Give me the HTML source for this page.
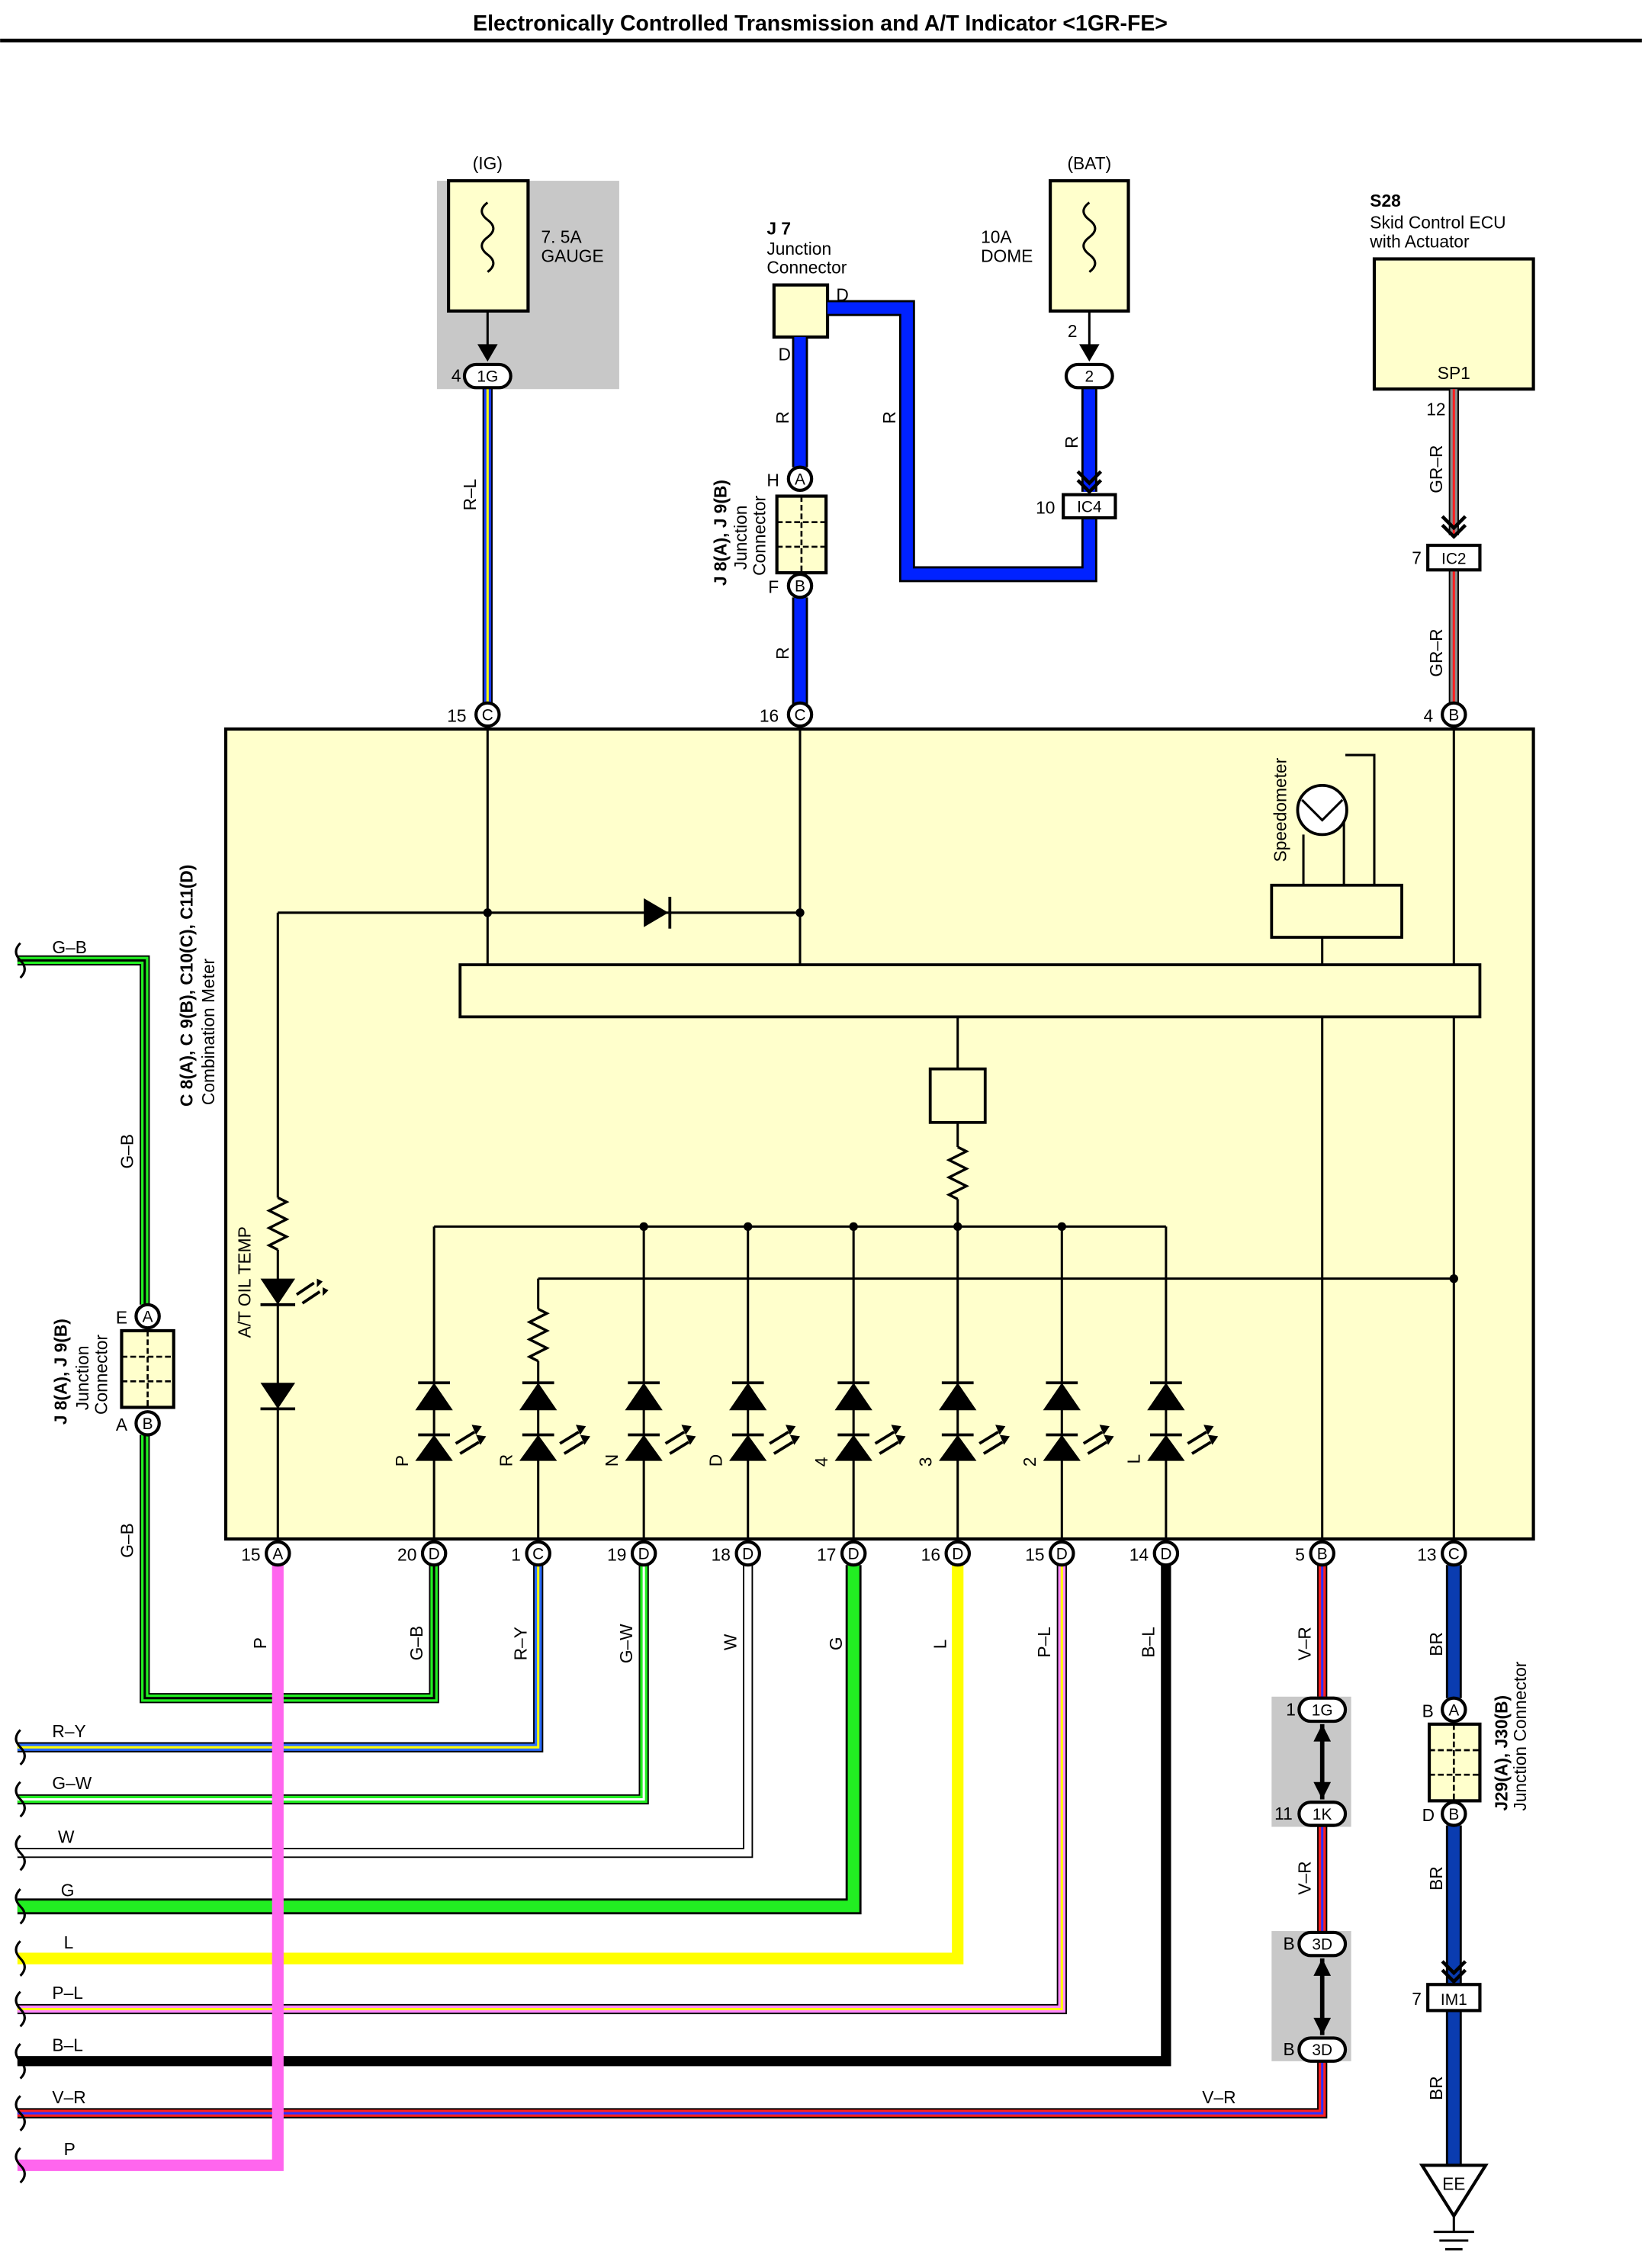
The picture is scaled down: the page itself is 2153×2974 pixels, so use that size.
<!DOCTYPE html>
<html><head><meta charset="utf-8"><style>
html,body{margin:0;padding:0;background:#fff}
svg{display:block}
text{font-family:"Liberation Sans",sans-serif;font-size:12px;fill:#000}
.o{fill:none;stroke:#000;stroke-width:7;stroke-linejoin:miter}
.ot{fill:none;stroke:#000;stroke-width:11;stroke-linejoin:miter}
.w{fill:none;stroke-width:5}
.wt{fill:none;stroke-width:8}
.s{fill:none;stroke-width:1.6}
.l{fill:none;stroke:#000;stroke-width:1.6}
.c{fill:#fff;stroke:#000;stroke-width:2.2}
.ct{font-size:11px;text-anchor:middle}
</style></head><body>
<svg width="2153" height="2974" viewBox="0 0 1135 1568" xmlns="http://www.w3.org/2000/svg">
<rect width="1135" height="1568" fill="#fff"/>
<text x="567" y="21" text-anchor="middle" style="font-size:15px;font-weight:bold">Electronically Controlled Transmission and A/T Indicator &lt;1GR-FE&gt;</text>
<line x1="0" y1="28" x2="1135" y2="28" stroke="#000" stroke-width="2.5"/>

<!-- gray boxes -->
<rect x="302" y="125" width="126" height="144" fill="#c8c8c8"/>
<rect x="879" y="1173" width="55" height="90" fill="#c8c8c8"/>
<rect x="879" y="1335" width="55" height="90" fill="#c8c8c8"/>

<!-- main meter -->
<rect x="156" y="504" width="904" height="560" fill="#ffffcc" stroke="#000" stroke-width="2.2"/>

<!-- fuses -->
<rect x="310" y="125" width="55" height="90" fill="#ffffcc" stroke="#000" stroke-width="2.2"/>
<path d="M337 140 q-8 6 0 12 q8 6 0 12 q-8 6 0 12 q8 6 0 12" class="l" stroke-width="1.8"/>
<text x="374" y="168">7. 5A</text><text x="374" y="181">GAUGE</text>
<text x="337" y="117" text-anchor="middle">(IG)</text>
<line x1="337" y1="215" x2="337" y2="246" class="l"/>
<path d="M330 238 L337 250 L344 238 Z" fill="#000"/>

<rect x="726" y="125" width="54" height="90" fill="#ffffcc" stroke="#000" stroke-width="2.2"/>
<path d="M753 140 q-8 6 0 12 q8 6 0 12 q-8 6 0 12 q8 6 0 12" class="l" stroke-width="1.8"/>
<text x="678" y="168">10A</text><text x="678" y="181">DOME</text>
<text x="753" y="117" text-anchor="middle">(BAT)</text>
<line x1="753" y1="215" x2="753" y2="246" class="l"/>
<path d="M746 238 L753 250 L760 238 Z" fill="#000"/>
<text x="738" y="233">2</text>

<!-- S28 -->
<text x="947" y="143" style="font-weight:bold">S28</text>
<text x="947" y="158">Skid Control ECU</text>
<text x="947" y="171">with Actuator</text>
<rect x="950" y="179" width="110" height="90" fill="#ffffcc" stroke="#000" stroke-width="2.2"/>
<text x="1005" y="262" text-anchor="middle">SP1</text>

<!-- J7 -->
<text x="530" y="162" style="font-weight:bold">J 7</text>
<text x="530" y="176">Junction</text>
<text x="530" y="189">Connector</text>
<rect x="535" y="197" width="37" height="36" fill="#ffffcc" stroke="#000" stroke-width="2.2"/>
<text x="578" y="208">D</text><text x="538" y="249">D</text>

<!-- WIRES -->
<!-- R-L -->
<path d="M337 268 V487" class="o"/><path d="M337 268 V487" class="w" stroke="#1a3cff"/><path d="M337 268 V487" class="s" stroke="#ffff00"/>
<!-- R thick blue -->
<path d="M553 233 V323 M553 413 V487" class="ot"/><path d="M553 233 V323 M553 413 V487" class="wt" stroke="#0022ff"/>
<path d="M572 213 H627 V397 H753 V358" class="ot"/><path d="M572 213 H627 V397 H753 V358" class="wt" stroke="#0022ff"/>
<path d="M753 268 V340" class="ot"/><path d="M753 268 V340" class="wt" stroke="#0022ff"/>
<!-- GR-R -->
<path d="M1005 269 V370 M1005 394 V487" class="o"/><path d="M1005 269 V370 M1005 394 V487" class="w" stroke="#8a8a8a"/><path d="M1005 269 V370 M1005 394 V487" class="s" stroke="#ff2020"/>

<!-- G-B -->
<path d="M12 664 H100 V902 M100 992 V1174 H300 V1082" class="o"/><path d="M12 664 H100 V902 M100 992 V1174 H300 V1082" class="w" stroke="#22ee22"/><path d="M12 664 H100 V902 M100 992 V1174 H300 V1082" class="s" stroke="#000"/>
<!-- R-Y -->
<path d="M12 1208 H372 V1082" class="o"/><path d="M12 1208 H372 V1082" class="w" stroke="#2a6bff"/><path d="M12 1208 H372 V1082" class="s" stroke="#ffff00"/>
<!-- G-W -->
<path d="M12 1244 H445 V1082" class="o"/><path d="M12 1244 H445 V1082" class="w" stroke="#22ee22"/><path d="M12 1244 H445 V1082" class="s" stroke="#fff"/>
<!-- W -->
<path d="M12 1281 H517 V1082" class="o" stroke-width="5"/><path d="M12 1281 H517 V1082" class="w" stroke="#fff" stroke-width="3.4"/>
<!-- G thick -->
<path d="M12 1318 H590 V1082" class="ot"/><path d="M12 1318 H590 V1082" class="wt" stroke="#22ee22"/>
<!-- L thick yellow -->
<path d="M12 1354 H662 V1082" class="wt" stroke="#ffff00" stroke-width="9"/>
<!-- P-L -->
<path d="M12 1389 H734 V1082" class="o" stroke="#ff66ff"/><path d="M12 1389 H734 V1082" class="w" stroke="#ff88ff"/><path d="M12 1389 H734 V1082" class="s" stroke="#ffff00"/>
<!-- B-L -->
<path d="M12 1425 H806 V1082" class="o" stroke="#ffff00" stroke-width="9"/><path d="M12 1425 H806 V1082" class="w" stroke="#000"/>
<!-- V-R -->
<path d="M12 1461 H914 V1425 M914 1335 V1262 M914 1173 V1082" class="o" stroke="#ff2020" stroke-width="8"/><path d="M12 1461 H914 V1425 M914 1335 V1262 M914 1173 V1082" class="w" stroke="#ff2020"/><path d="M12 1461 H914 V1425 M914 1335 V1262 M914 1173 V1082" class="s" stroke="#3030ff"/>
<!-- P thick pink -->
<path d="M12 1497 H192 V1082" class="wt" stroke="#ff66ee" stroke-width="10"/>
<!-- BR -->
<path d="M1005 1082 V1174 M1005 1262 V1372 M1005 1390 V1497" class="ot"/><path d="M1005 1082 V1174 M1005 1262 V1372 M1005 1390 V1497" class="wt" stroke="#0a3cb0"/>

<!-- left squiggles -->
<g class="l" stroke-width="1.8">
<path d="M14 652 q-6 6 0 12 q6 6 0 12"/>
<path d="M14 1196 q-6 6 0 12 q6 6 0 12"/><path d="M14 1232 q-6 6 0 12 q6 6 0 12"/>
<path d="M14 1269 q-6 6 0 12 q6 6 0 12"/><path d="M14 1306 q-6 6 0 12 q6 6 0 12"/>
<path d="M14 1342 q-6 6 0 12 q6 6 0 12"/><path d="M14 1377 q-6 6 0 12 q6 6 0 12"/>
<path d="M14 1413 q-6 6 0 12 q6 6 0 12"/><path d="M14 1449 q-6 6 0 12 q6 6 0 12"/>
<path d="M14 1485 q-6 6 0 12 q6 6 0 12"/>
</g>
<g font-size="12">
<text x="36" y="659">G–B</text><text x="36" y="1201">R–Y</text><text x="36" y="1237">G–W</text>
<text x="40" y="1274">W</text><text x="42" y="1311">G</text><text x="44" y="1347">L</text>
<text x="36" y="1382">P–L</text><text x="36" y="1418">B–L</text><text x="36" y="1454">V–R</text>
<text x="44" y="1490">P</text><text x="831" y="1454">V–R</text>
</g>

<!-- arrows chevrons -->
<g fill="none" stroke="#000" stroke-width="2.4">
<path d="M745 326 L753 334 L761 326 M745 332 L753 340 L761 332"/>
<path d="M997 357 L1005 365 L1013 357 M997 363 L1005 371 L1013 363"/>
<path d="M997 1356 L1005 1364 L1013 1356 M997 1362 L1005 1370 L1013 1362"/>
</g>
<!-- 1G-1K and 3D-3D double arrows -->
<g fill="#000"><path d="M914 1192 l-6 12 h12z M914 1244 l-6 -12 h12z"/><path d="M914 1354 l-6 12 h12z M914 1407 l-6 -12 h12z"/></g>
<line x1="914" y1="1192" x2="914" y2="1244" stroke="#000" stroke-width="3"/>
<line x1="914" y1="1354" x2="914" y2="1407" stroke="#000" stroke-width="3"/>

<!-- junction connectors -->
<g fill="#ffffcc" stroke="#000" stroke-width="2.2">
<rect x="537" y="343" width="34" height="53"/><rect x="84" y="920" width="36" height="53"/><rect x="988" y="1192" width="35" height="53"/>
</g>
<g stroke="#000" stroke-width="1.4" stroke-dasharray="4 2">
<path d="M554 343 V396 M537 361 H571 M537 378 H571"/><path d="M102 920 V973 M84 938 H120 M84 955 H120"/><path d="M1005 1192 V1245 M988 1210 H1023 M988 1227 H1023"/>
</g>

<!-- oval connectors -->
<g fill="#fff" stroke="#000" stroke-width="2.2">
<rect x="321" y="252" width="32" height="16" rx="8"/><rect x="737" y="252" width="32" height="16" rx="8"/>
<rect x="735" y="342" width="36" height="16"/><rect x="987" y="377" width="36" height="17"/><rect x="987" y="1372" width="36" height="18"/>
<rect x="898" y="1174" width="32" height="16" rx="8"/><rect x="898" y="1246" width="32" height="16" rx="8"/>
<rect x="898" y="1336" width="32" height="16" rx="8"/><rect x="898" y="1409" width="32" height="16" rx="8"/>
</g>
<g class="ct">
<text x="337" y="264" class="ct">1G</text><text x="753" y="264" class="ct">2</text>
<text x="753" y="354" class="ct">IC4</text><text x="1005" y="390" class="ct">IC2</text><text x="1005" y="1386" class="ct">IM1</text>
<text x="914" y="1186" class="ct">1G</text><text x="914" y="1258" class="ct">1K</text>
<text x="914" y="1348" class="ct">3D</text><text x="914" y="1421" class="ct">3D</text>
</g>
<text x="312" y="264">4</text><text x="716" y="355">10</text><text x="976" y="390">7</text><text x="976" y="1386">7</text>
<text x="986" y="287">12</text>
<text x="889" y="1186">1</text><text x="881" y="1258">11</text><text x="887" y="1348">B</text><text x="887" y="1421">B</text>

<!-- circle connectors -->
<g>
<circle cx="337" cy="494" r="8" class="c"/><circle cx="553" cy="494" r="8" class="c"/><circle cx="1005" cy="494" r="8" class="c"/>
<circle cx="553" cy="331" r="8" class="c"/><circle cx="553" cy="405" r="8" class="c"/>
<circle cx="102" cy="910" r="8" class="c"/><circle cx="102" cy="984" r="8" class="c"/>
<circle cx="1005" cy="1182" r="8" class="c"/><circle cx="1005" cy="1254" r="8" class="c"/>
<circle cx="192" cy="1074" r="8" class="c"/><circle cx="300" cy="1074" r="8" class="c"/><circle cx="372" cy="1074" r="8" class="c"/>
<circle cx="445" cy="1074" r="8" class="c"/><circle cx="517" cy="1074" r="8" class="c"/><circle cx="590" cy="1074" r="8" class="c"/>
<circle cx="662" cy="1074" r="8" class="c"/><circle cx="734" cy="1074" r="8" class="c"/><circle cx="806" cy="1074" r="8" class="c"/>
<circle cx="914" cy="1074" r="8" class="c"/><circle cx="1005" cy="1074" r="8" class="c"/>
</g>
<g class="ct">
<text x="337" y="498" class="ct">C</text><text x="553" y="498" class="ct">C</text><text x="1005" y="498" class="ct">B</text>
<text x="553" y="335" class="ct">A</text><text x="553" y="409" class="ct">B</text>
<text x="102" y="914" class="ct">A</text><text x="102" y="988" class="ct">B</text>
<text x="1005" y="1186" class="ct">A</text><text x="1005" y="1258" class="ct">B</text>
<text x="192" y="1078" class="ct">A</text><text x="300" y="1078" class="ct">D</text><text x="372" y="1078" class="ct">C</text>
<text x="445" y="1078" class="ct">D</text><text x="517" y="1078" class="ct">D</text><text x="590" y="1078" class="ct">D</text>
<text x="662" y="1078" class="ct">D</text><text x="734" y="1078" class="ct">D</text><text x="806" y="1078" class="ct">D</text>
<text x="914" y="1078" class="ct">B</text><text x="1005" y="1078" class="ct">C</text>
</g>
<text x="309" y="499">15</text><text x="525" y="499">16</text><text x="984" y="499">4</text>
<text x="530" y="336">H</text><text x="531" y="410">F</text><text x="80" y="915">E</text><text x="80" y="989">A</text>
<text x="983" y="1187">B</text><text x="983" y="1259">D</text>
<g text-anchor="end">
<text x="180" y="1079">15</text><text x="288" y="1079">20</text><text x="360" y="1079">1</text><text x="433" y="1079">19</text>
<text x="505" y="1079">18</text><text x="578" y="1079">17</text><text x="650" y="1079">16</text><text x="722" y="1079">15</text>
<text x="794" y="1079">14</text><text x="902" y="1079">5</text><text x="993" y="1079">13</text>
</g>

<!-- vertical wire labels -->
<g font-size="12">
<text transform="translate(329,353) rotate(-90)">R–L</text>
<text transform="translate(545,293) rotate(-90)">R</text><text transform="translate(545,456) rotate(-90)">R</text>
<text transform="translate(619,293) rotate(-90)">R</text><text transform="translate(745,310) rotate(-90)">R</text>
<text transform="translate(997,341) rotate(-90)">GR–R</text><text transform="translate(997,468) rotate(-90)">GR–R</text>
<text transform="translate(92,808) rotate(-90)">G–B</text><text transform="translate(92,1077) rotate(-90)">G–B</text>
<text transform="translate(184,1140) rotate(-90)">P</text><text transform="translate(292,1148) rotate(-90)">G–B</text>
<text transform="translate(364,1148) rotate(-90)">R–Y</text><text transform="translate(437,1150) rotate(-90)">G–W</text>
<text transform="translate(509,1141) rotate(-90)">W</text><text transform="translate(582,1141) rotate(-90)">G</text>
<text transform="translate(654,1140) rotate(-90)">L</text><text transform="translate(726,1146) rotate(-90)">P–L</text>
<text transform="translate(798,1146) rotate(-90)">B–L</text><text transform="translate(906,1148) rotate(-90)">V–R</text>
<text transform="translate(906,1310) rotate(-90)">V–R</text>
<text transform="translate(997,1145) rotate(-90)">BR</text><text transform="translate(997,1307) rotate(-90)">BR</text>
<text transform="translate(997,1452) rotate(-90)">BR</text>
</g>
<!-- side component labels -->
<text transform="translate(133,765) rotate(-90)" style="font-weight:bold">C 8(A), C 9(B), C10(C), C11(D)</text>
<text transform="translate(148,764) rotate(-90)">Combination Meter</text>
<text transform="translate(46,985) rotate(-90)" style="font-weight:bold">J 8(A), J 9(B)</text>
<text transform="translate(61,975) rotate(-90)">Junction</text><text transform="translate(74,978) rotate(-90)">Connector</text>
<text transform="translate(502,405) rotate(-90)" style="font-weight:bold">J 8(A), J 9(B)</text>
<text transform="translate(516,394) rotate(-90)">Junction</text><text transform="translate(529,398) rotate(-90)">Connector</text>
<text transform="translate(1042,1252) rotate(-90)" style="font-weight:bold">J29(A), J30(B)</text>
<text transform="translate(1055,1252) rotate(-90)">Junction Connector</text>

<!-- ground EE -->
<path d="M983 1497 H1027 L1005 1532 Z" fill="#fff" stroke="#000" stroke-width="2.2"/>
<text x="1005" y="1514" text-anchor="middle">EE</text>
<path d="M1005 1532 V1543 M991 1543 H1019 M995 1549 H1015 M999 1555 H1011" class="l" stroke-width="2"/>

<!-- INTERNAL -->
<g class="l">
<path d="M337 504 V667 M553 504 V667"/>
<path d="M192 631 H553"/>
<path d="M192 631 V1066"/>
<path d="M914 648 V1066 M1005 504 V1066"/>
<path d="M662 703 V739 M662 776 V1066"/>
<path d="M300 848 H806"/>
<path d="M300 848 V1066 M445 848 V1066 M517 848 V1066 M590 848 V1066 M734 848 V1066 M806 848 V1066"/>
<path d="M372 884 H1005 M372 884 V1066"/>
<path d="M901 612 V577 M929 612 V560 M930 522 H950 V612"/>
</g>
<rect x="318" y="667" width="705" height="36" fill="#ffffcc" stroke="#000" stroke-width="2"/>
<rect x="643" y="739" width="38" height="37" fill="#ffffcc" stroke="#000" stroke-width="2"/>
<rect x="879" y="612" width="90" height="36" fill="#ffffcc" stroke="#000" stroke-width="2"/>
<circle cx="914" cy="560" r="17" fill="#fff" stroke="#000" stroke-width="2"/>
<path d="M900 553 L914 567 L928 553" class="l" fill="none"/>
<text transform="translate(889,596) rotate(-90)">Speedometer</text>
<!-- diode -->
<path d="M445 621 L462 631 L445 641 Z" fill="#000"/><line x1="463" y1="620" x2="463" y2="642" stroke="#000" stroke-width="2"/>
<g fill="#000"><circle cx="337" cy="631" r="3"/><circle cx="553" cy="631" r="3"/>
<circle cx="445" cy="848" r="3"/><circle cx="517" cy="848" r="3"/><circle cx="590" cy="848" r="3"/><circle cx="662" cy="848" r="3"/><circle cx="734" cy="848" r="3"/><circle cx="1005" cy="884" r="3"/></g>
<!-- resistors (white gap + zigzag) -->
<g fill="none" stroke="#000" stroke-width="1.8">
<path d="M662 793 l6 3 -12 6 12 6 -12 6 12 6 -12 6 6 3" stroke-width="0" />
</g>
<rect x="655" y="793" width="14" height="36" fill="#ffffcc"/>
<path d="M662 793 l6 3 l-12 6 l12 6 l-12 6 l12 6 l-12 6 l6 3" fill="none" stroke="#000" stroke-width="1.8"/>
<rect x="365" y="905" width="14" height="36" fill="#ffffcc"/>
<path d="M372 905 l6 3 l-12 6 l12 6 l-12 6 l12 6 l-12 6 l6 3" fill="none" stroke="#000" stroke-width="1.8"/>
<rect x="185" y="828" width="14" height="36" fill="#ffffcc"/>
<path d="M192 828 l6 3 l-12 6 l12 6 l-12 6 l12 6 l-12 6 l6 3" fill="none" stroke="#000" stroke-width="1.8"/>
<!-- A/T oil temp LED (pointing down) and diode -->
<path d="M180 884 H204 L192 902 Z" fill="#000"/><line x1="180" y1="902" x2="204" y2="902" stroke="#000" stroke-width="2"/>
<path d="M205 895 l12 -8 M209 901 l12 -8" stroke="#000" stroke-width="2"/><path d="M219 884 l4 2 -4 4z M223 890 l4 2 -4 4z" fill="#000"/>
<path d="M180 956 H204 L192 974 Z" fill="#000"/><line x1="180" y1="974" x2="204" y2="974" stroke="#000" stroke-width="2"/>
<text transform="translate(173,925) rotate(-90)">A/T OIL TEMP</text>

<!-- LED columns -->
<g id="led">
<path d="M287 975 L300 956 L313 975 Z M287 1010 L300 992 L313 1010 Z" fill="#000"/>
<path d="M289 956 H311 M289 992 H311" stroke="#000" stroke-width="2"/>
<path d="M315 998 l13 -8 M318 1005 l13 -8" stroke="#000" stroke-width="2"/>
<path d="M326 985 l7 1 -4 6z M329 992 l7 1 -4 6z" fill="#000"/>
</g>
<use href="#led" x="72"/><use href="#led" x="145"/><use href="#led" x="217"/><use href="#led" x="290"/>
<use href="#led" x="362"/><use href="#led" x="434"/><use href="#led" x="506"/>
<g font-size="12">
<text transform="translate(282,1014) rotate(-90)">P</text><text transform="translate(354,1014) rotate(-90)">R</text>
<text transform="translate(427,1014) rotate(-90)">N</text><text transform="translate(499,1014) rotate(-90)">D</text>
<text transform="translate(572,1014) rotate(-90)">4</text><text transform="translate(644,1014) rotate(-90)">3</text>
<text transform="translate(716,1014) rotate(-90)">2</text><text transform="translate(788,1012) rotate(-90)">L</text>
</g>
</svg>
</body></html>
